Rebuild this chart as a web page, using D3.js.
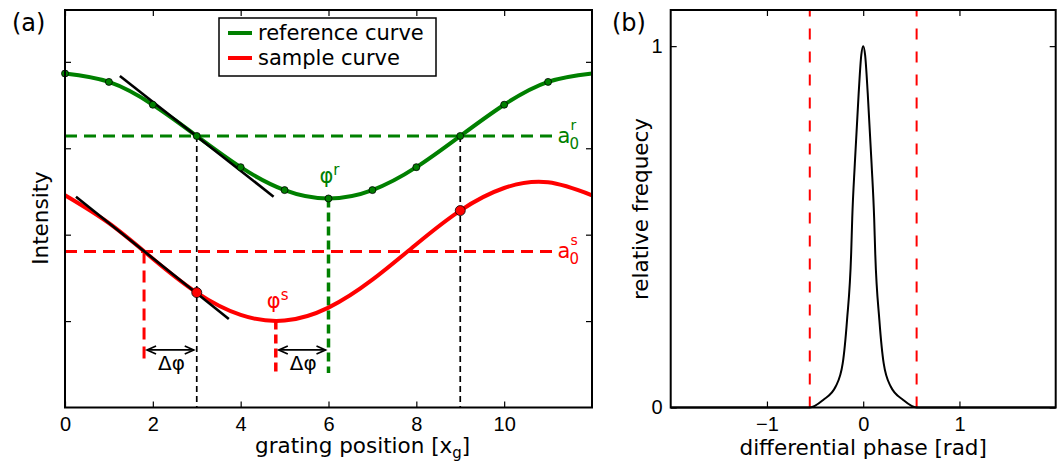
<!DOCTYPE html>
<html>
<head>
<meta charset="utf-8">
<script src="https://cdn.jsdelivr.net/npm/d3@7"></script>
<style>
  body { margin: 0; background: #fff; }
  svg { font-family: "DejaVu Sans", sans-serif; }
  .tick line { stroke: #000; stroke-width: 1.2; }
  .domain { display: none; }
</style>
</head>
<body>
<svg id="chart" width="1061" height="465"></svg>
<script>
// ---- panel (a) data ----
const gratingPos = [0, 1, 2, 3, 4, 5, 6, 7, 8, 9, 10, 11, 12];
const refIntensity = [3.865, 3.768, 3.504, 3.142, 2.781, 2.516, 2.419, 2.516, 2.781, 3.142, 3.504, 3.768, 3.865];
const samIntensity = [2.456, 2.133, 1.722, 1.330, 1.072, 1.006, 1.156, 1.479, 1.890, 2.279, 2.540, 2.606, 2.456];
const refStepCount = 12;          // measured steps 0..11
const samMarkedPos = [3, 9];      // highlighted sample points
const a0Ref = 3.142;
const a0Sam = 1.806;
const phiRef = 6.0;
const phiSam = 4.8;
const deltaStart = 1.8;           // where sample curve crosses a0s
const tangentRef = [[1.25, 3.837], [4.75, 2.44]];
const tangentSam = [[0.25, 2.44], [3.73, 1.024]];
const xTicksA = [0, 2, 4, 6, 8, 10];
const yTicksA = [1, 2, 3, 4];

// ---- panel (b) data ----
const phaseX = [-2.0, -0.555, -0.416, -0.286, -0.213, -0.168, -0.125, -0.114, -0.087, -0.047, -0.02, 0,
                0.02, 0.047, 0.087, 0.114, 0.125, 0.168, 0.213, 0.286, 0.416, 0.555, 2.0];
const relFreq = [0, 0, 0.021, 0.058, 0.122, 0.242, 0.427, 0.523, 0.675, 0.87, 0.975, 1.0,
                 0.975, 0.87, 0.675, 0.523, 0.427, 0.242, 0.122, 0.058, 0.021, 0, 0];
const phaseLimits = [-0.555, 0.555];
const xTicksB = [-1, 0, 1];
const yTicksB = [0, 1];

const GREEN = "#008000", RED = "#ff0000";
const TICK_FONT = 20, LABEL_FONT = 21.5;
const svg = d3.select("#chart");

// ================= panel (a) =================
const xA = d3.scaleLinear().domain([0, 12]).range([65, 592]);
const yA = d3.scaleLinear().domain([0, 4.6]).range([407.5, 10]);
const gA = svg.append("g");

function frame(g, x, y, xt, yt, showY) {
  const fmt = d3.format("d");
  g.append("g").attr("transform", `translate(0,${y.range()[0]})`)
    .call(d3.axisBottom(x).tickValues(xt).tickSizeInner(-6).tickSizeOuter(0).tickPadding(9).tickFormat(fmt))
    .selectAll("text").attr("font-size", TICK_FONT).attr("fill", "#000");
  g.append("g").attr("transform", `translate(0,${y.range()[1]})`)
    .call(d3.axisTop(x).tickValues(xt).tickSizeInner(-6).tickSizeOuter(0).tickFormat(""));
  g.append("g").attr("transform", `translate(${x.range()[0]},0)`)
    .call(d3.axisLeft(y).tickValues(yt).tickSizeInner(-6).tickSizeOuter(0).tickPadding(8)
      .tickFormat(showY ? fmt : ""))
    .selectAll("text").attr("font-size", TICK_FONT).attr("fill", "#000");
  g.append("g").attr("transform", `translate(${x.range()[1]},0)`)
    .call(d3.axisRight(y).tickValues(yt).tickSizeInner(-6).tickSizeOuter(0).tickFormat(""));
  g.append("rect")
    .attr("x", x.range()[0]).attr("y", y.range()[1])
    .attr("width", x.range()[1] - x.range()[0]).attr("height", y.range()[0] - y.range()[1])
    .attr("fill", "none").attr("stroke", "#000").attr("stroke-width", 2);
}

function seg(g, x1, y1, x2, y2, color, w, dash) {
  g.append("line")
    .attr("x1", x1).attr("y1", y1).attr("x2", x2).attr("y2", y2)
    .attr("stroke", color).attr("stroke-width", w)
    .attr("stroke-dasharray", dash || null);
}

// guide lines
seg(gA, xA(0), yA(a0Ref), xA(11.1), yA(a0Ref), GREEN, 3, "12,7");
seg(gA, xA(0), yA(a0Sam), xA(11.1), yA(a0Sam), RED, 3, "12,7");
samMarkedPos.forEach(p => seg(gA, xA(p), yA(a0Ref), xA(p), yA(0), "#000", 1.7, "6,4"));
seg(gA, xA(deltaStart), yA(a0Sam), xA(deltaStart), yA(0.504), RED, 3, "12,7");
seg(gA, xA(phiSam), yA(d3.min(samIntensity)), xA(phiSam), yA(0.40), RED, 3.5, "9,5");
seg(gA, xA(phiRef), yA(d3.min(refIntensity)), xA(phiRef), yA(0.40), GREEN, 3.5, "9,5");

// curves
const lineA = d3.line().x((d, i) => xA(gratingPos[i])).y(d => yA(d)).curve(d3.curveNatural);
gA.append("path").datum(refIntensity).attr("d", lineA)
  .attr("fill", "none").attr("stroke", GREEN).attr("stroke-width", 4);
gA.append("path").datum(samIntensity).attr("d", lineA)
  .attr("fill", "none").attr("stroke", RED).attr("stroke-width", 4);

// tangents
[tangentRef, tangentSam].forEach(t =>
  seg(gA, xA(t[0][0]), yA(t[0][1]), xA(t[1][0]), yA(t[1][1]), "#000", 2.6));

// points
gA.selectAll("circle.ref").data(refIntensity.slice(0, refStepCount)).enter()
  .append("circle").attr("class", "ref")
  .attr("cx", (d, i) => xA(gratingPos[i])).attr("cy", d => yA(d)).attr("r", 3.5)
  .attr("fill", GREEN).attr("stroke", "#000").attr("stroke-width", 0.8);
gA.selectAll("circle.sam").data(samMarkedPos).enter()
  .append("circle").attr("class", "sam")
  .attr("cx", d => xA(d)).attr("cy", d => yA(samIntensity[gratingPos.indexOf(d)])).attr("r", 5)
  .attr("fill", RED).attr("stroke", "#000").attr("stroke-width", 0.8);

// delta-phi arrows
function arrow(g, xa, xb, yv) {
  const x1 = xA(xa) + 3, x2 = xA(xb) - 3, y = yA(yv);
  seg(g, x1, y, x2, y, "#000", 1.7);
  [[x1, 1], [x2, -1]].forEach(([px, s]) => {
    g.append("path")
      .attr("d", `M${px + s * 9},${y - 4} L${px},${y} L${px + s * 9},${y + 4}`)
      .attr("fill", "none").attr("stroke", "#000").attr("stroke-width", 1.7);
  });
}
arrow(gA, deltaStart, samMarkedPos[0], 0.666);
arrow(gA, phiSam, phiRef, 0.666);
gA.append("text").attr("x", (xA(deltaStart) + xA(samMarkedPos[0])) / 2 + 1).attr("y", 370)
  .attr("text-anchor", "middle").attr("font-size", 20).text("Δφ");
gA.append("text").attr("x", (xA(phiSam) + xA(phiRef)) / 2 + 1).attr("y", 370)
  .attr("text-anchor", "middle").attr("font-size", 20).text("Δφ");

// phase labels
function supLabel(g, x, y, base, sup, color) {
  const t = g.append("text").attr("x", x).attr("y", y).attr("fill", color).attr("font-size", 21);
  t.append("tspan").text(base);
  t.append("tspan").attr("font-size", 15).attr("dy", -8).text(sup);
}
supLabel(gA, xA(phiRef) - 9, yA(d3.min(refIntensity)) - 15, "φ", "r", GREEN);
supLabel(gA, xA(phiSam) - 9, yA(d3.min(samIntensity)) - 13, "φ", "s", RED);

// a0 labels: base letter with stacked super- and subscript
function aLabel(g, y, sup, color) {
  const x = xA(11.1) + 5;
  g.append("text").attr("x", x).attr("y", y + 7).attr("fill", color).attr("font-size", 21).text("a");
  g.append("text").attr("x", x + 13).attr("y", y - 6).attr("fill", color).attr("font-size", 14).text(sup);
  g.append("text").attr("x", x + 12).attr("y", y + 13).attr("fill", color).attr("font-size", 15).text("0");
}
aLabel(gA, yA(a0Ref), "r", GREEN);
aLabel(gA, yA(a0Sam), "s", RED);

frame(gA, xA, yA, xTicksA, yTicksA, false);

// legend
const leg = gA.append("g");
leg.append("rect").attr("x", 219).attr("y", 18).attr("width", 217).attr("height", 58)
  .attr("fill", "#fff").attr("stroke", "#000").attr("stroke-width", 1.5);
[["reference curve", GREEN], ["sample curve", RED]].forEach(([label, c], i) => {
  seg(leg, 228, 33 + i * 25, 252, 33 + i * 25, c, 4);
  leg.append("text").attr("x", 258).attr("y", 40 + i * 25).attr("font-size", 21).text(label);
});

gA.append("text").attr("transform", "translate(48,218) rotate(-90)")
  .attr("text-anchor", "middle").attr("font-size", LABEL_FONT).text("Intensity");
const xl = gA.append("text").attr("x", 255).attr("y", 453).attr("font-size", LABEL_FONT);
xl.append("tspan").text("grating position [x");
xl.append("tspan").attr("font-size", 15).attr("dy", 5).text("g");
xl.append("tspan").attr("dy", -5).text("]");
gA.append("text").attr("x", 12).attr("y", 31).attr("font-size", 24).text("(a)");

// ================= panel (b) =================
const xB = d3.scaleLinear().domain([-2, 2]).range([670.7, 1055.7]);
const yB = d3.scaleLinear().domain([0, 1.1]).range([407.5, 10]);
const gB = svg.append("g");

phaseLimits.forEach(p => seg(gB, xB(p), yB(0), xB(p), yB(1.1), RED, 2, "11,12"));

const lineB = d3.line().x((d, i) => xB(phaseX[i])).y(d => yB(d)).curve(d3.curveMonotoneX);
gB.append("path").datum(relFreq).attr("d", lineB)
  .attr("fill", "none").attr("stroke", "#000").attr("stroke-width", 2);

frame(gB, xB, yB, xTicksB, yTicksB, true);

gB.append("text").attr("transform", "translate(648,209) rotate(-90)")
  .attr("text-anchor", "middle").attr("font-size", LABEL_FONT).text("relative frequecy");
gB.append("text").attr("x", xB(0)).attr("y", 455)
  .attr("text-anchor", "middle").attr("font-size", LABEL_FONT).text("differential phase [rad]");
gB.append("text").attr("x", 612).attr("y", 31).attr("font-size", 24).text("(b)");
</script>
</body>
</html>
